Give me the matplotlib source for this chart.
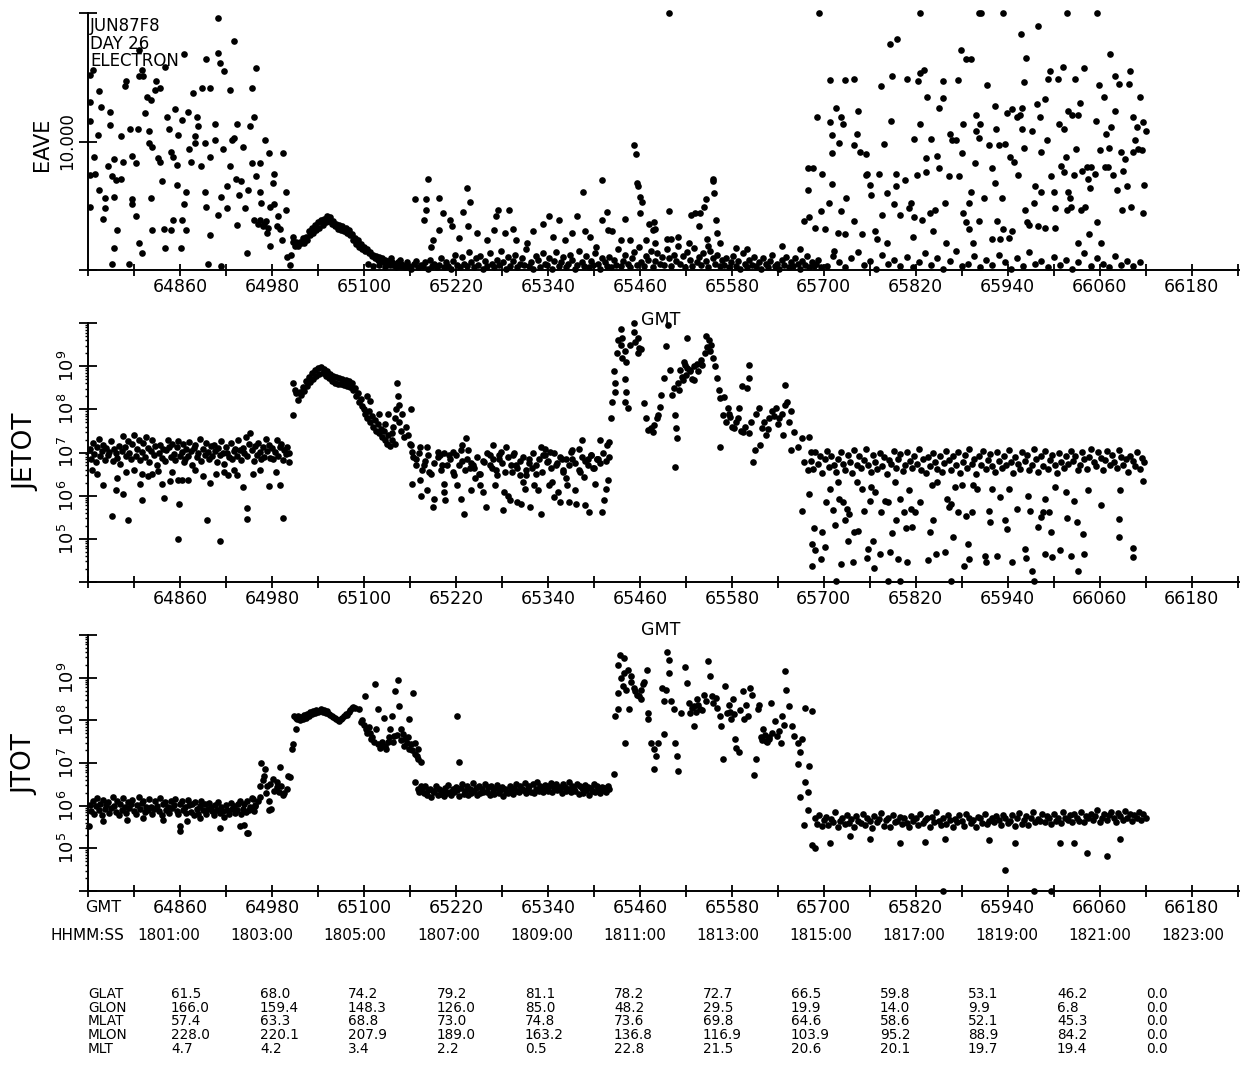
import numpy as np
import matplotlib
matplotlib.use("Agg")
import matplotlib.pyplot as plt
from matplotlib.ticker import LogLocator, NullFormatter

plt.rcParams["font.family"] = ["DejaVu Sans"]

# ---- x axis (GMT seconds of day) ----
gmt_labels = [64860, 64980, 65100, 65220, 65340, 65460, 65580, 65700,
              65820, 65940, 66060, 66180]
hhmm_labels = ["1801:00", "1803:00", "1805:00", "1807:00", "1809:00", "1811:00",
               "1813:00", "1815:00", "1817:00", "1819:00", "1821:00", "1823:00"]

# ---- EAVE (linear, values above 20 drawn at the top) ----
eave_pts = [
    (64742, 15.2), (64742, 13.1), (64743, 11.6), (64742, 7.4), (64742, 4.9),
    (64747, 15.6), (64754, 13.9), (64757, 12.7), (64753, 10.5), (64748, 8.8), (64749, 7.5),
    (64754, 6.2), (64762, 5.6), (64762, 4.8), (64759, 4.0),
    (64769, 12.3), (64769, 11.3), (64766, 8.1), (64771, 7.3), (64774, 8.6), (64776, 7.0),
    (64774, 5.7), (64778, 3.1), (64774, 1.7), (64771, 0.5), (64783, 10.4), (64786, 8.4), (64783, 7.1),
    (64788, 14.3), (64790, 14.7), (64795, 11.0), (64798, 8.9), (64798, 5.5), (64797, 5.1),
    (64807, 15.1), (64807, 17.1), (64810, 15.6), (64807, 2.1), (64810, 1.3), (64805, 11.0),
    (64802, 8.3), (64802, 4.2), (64793, 0.5),
    (64812, 15.1), (64815, 12.2), (64817, 13.5), (64819, 10.8), (64819, 9.9), (64822, 13.2),
    (64824, 9.6), (64827, 14.0), (64829, 14.7), (64834, 14.2), (64831, 8.7), (64834, 8.4),
    (64836, 6.9), (64824, 3.1), (64822, 5.6), (64839, 3.2),
    (64841, 15.8), (64843, 11.9), (64846, 11.0), (64848, 9.2), (64851, 8.8), (64853, 12.5),
    (64851, 3.9), (64848, 3.1), (64840, 1.7), (64856, 8.2), (64856, 6.6), (64858, 10.5),
    (64863, 11.7), (64861, 1.7), (64865, 16.8), (64863, 3.9), (64865, 5.1), (64868, 6.1), (64868, 3.1),
    (64870, 12.3), (64872, 9.4), (64875, 8.4), (64877, 13.8), (64880, 10.4), (64880, 9.9),
    (64882, 11.9), (64884, 11.2), (64887, 8.1), (64889, 14.2), (64894, 16.4), (64892, 9.9),
    (64892, 6.1), (64894, 4.9), (64899, 8.8), (64899, 2.7), (64896, 0.5), (64899, 14.2),
    (64906, 11.4), (64906, 10.1), (64909, 19.6), (64909, 16.9), (64912, 16.1), (64909, 4.3),
    (64913, 5.7), (64916, 9.4), (64918, 15.5), (64921, 6.5), (64921, 4.8), (64925, 14.0),
    (64925, 8.1), (64928, 10.1), (64914, 0.3),
    (64930, 17.8), (64930, 10.3), (64933, 7.1), (64935, 11.4), (64935, 3.5), (64937, 5.8),
    (64940, 6.9), (64942, 9.6), (64945, 4.8), (64947, 1.3), (64949, 6.2), (64952, 11.2),
    (64954, 14.2), (64957, 11.9), (64954, 8.3), (64959, 15.7), (64959, 7.3), (64957, 3.9),
    (64962, 3.6), (64965, 3.9), (64968, 3.4), (64972, 3.8), (64975, 3.3),
    (64964, 8.3), (64964, 6.1), (64966, 5.2), (64969, 3.6), (64971, 10.1), (64974, 2.9),
    (64976, 9.1), (64978, 4.9), (64978, 1.9), (64981, 6.8), (64983, 7.5), (64986, 3.4), (64983, 5.1),
    (64988, 4.2), (64990, 3.2), (64993, 2.3), (64995, 9.1), (64998, 6.1), (64998, 4.7),
    (65000, 1.0), (65003, 0.4), (65005, 1.2), (65007, 2.6),
    (65105, 0.5), (65112, 0.3), (65120, 0.4), (65128, 0.2), (65135, 0.9), (65142, 0.2), (65147, 0.8),
    (65166, 5.5), (65181, 5.5), (65181, 4.7), (65178, 3.9), (65184, 7.1), (65198, 5.6),
    (65203, 4.4), (65190, 2.3), (65188, 1.8), (65198, 3.1), (65212, 3.9), (65215, 3.4),
    (65224, 2.5), (65229, 4.5), (65234, 6.4), (65239, 5.3), (65236, 3.4), (65248, 2.9),
    (65260, 2.3), (65270, 3.1), (65272, 4.2), (65275, 4.7), (65289, 4.7), (65284, 2.9),
    (65294, 3.2), (65299, 2.3), (65313, 2.1), (65321, 3.0), (65333, 3.6), (65342, 4.2),
    (65354, 3.9), (65347, 2.6), (65362, 2.3), (65371, 2.9), (65378, 4.2), (65386, 6.1),
    (65388, 3.0), (65395, 2.6), (65403, 1.8), (65410, 7.0), (65410, 3.9), (65417, 4.5),
    (65419, 3.1), (65424, 3.0), (65436, 2.3), (65440, 4.0), (65447, 2.3), (65453, 9.7),
    (65455, 9.0), (65456, 6.8), (65457, 6.5), (65460, 5.7), (65463, 5.3), (65460, 4.4),
    (65468, 2.3), (65472, 3.6), (65477, 3.1), (65480, 2.1),
    (65478, 3.7), (65480, 3.2), (65495, 2.4), (65500, 2.4), (65510, 2.6), (65524, 2.1),
    (65527, 4.3), (65532, 4.4), (65539, 4.4), (65544, 4.9), (65546, 5.5), (65537, 3.4),
    (65547, 2.4), (65549, 1.9), (65555, 7.1), (65556, 6.9), (65557, 6.0), (65559, 3.9),
    (65561, 2.9), (65564, 2.1), (65498, 4.6),
    (65586, 1.7), (65600, 1.6), (65645, 1.9), (65669, 1.6), (65713, 1.5),
    (65679, 7.9), (65686, 7.9), (65679, 6.2), (65691, 11.9), (65698, 7.5), (65696, 4.6),
    (65674, 3.8), (65681, 4.1), (65689, 3.3), (65701, 3.2), (65707, 5.2), (65708, 14.8),
    (65708, 11.5), (65711, 10.5), (65711, 9.1), (65711, 6.7), (65716, 12.6), (65720, 9.9),
    (65723, 11.9), (65725, 11.4), (65723, 4.6), (65718, 2.9), (65728, 14.8), (65729, 5.6),
    (65728, 2.8), (65740, 14.9), (65740, 3.8), (65740, 9.7), (65743, 10.6), (65745, 12.4),
    (65747, 9.2), (65750, 2.8), (65755, 9.0), (65755, 7.4), (65757, 7.5), (65760, 6.6),
    (65762, 5.8), (65767, 3.0), (65769, 2.4), (65772, 7.5), (65774, 14.3), (65776, 4.3),
    (65778, 9.8), (65782, 6.0), (65783, 2.1), (65786, 17.6), (65788, 11.6), (65789, 15.1),
    (65792, 5.1), (65794, 7.5), (65794, 6.5), (65795, 18.0), (65799, 4.3), (65806, 7.0),
    (65809, 14.9), (65811, 4.8), (65814, 5.2), (65816, 2.6), (65818, 4.1), (65818, 10.2),
    (65821, 7.4), (65823, 14.7), (65826, 15.3), (65826, 11.4), (65828, 3.9), (65831, 15.6),
    (65833, 8.7), (65833, 7.6), (65835, 13.5), (65838, 4.4), (65840, 10.2), (65843, 3.0),
    (65845, 4.7), (65848, 8.9), (65850, 12.6), (65850, 7.9), (65855, 14.7), (65856, 13.4),
    (65858, 5.2), (65860, 2.1), (65863, 7.3), (65865, 10.6), (65867, 10.1), (65872, 10.1),
    (65875, 14.8), (65876, 7.3), (65879, 17.1), (65880, 9.1), (65882, 11.4), (65882, 4.4),
    (65885, 16.4), (65885, 3.7), (65889, 5.2), (65892, 16.4), (65890, 3.2), (65892, 6.1),
    (65895, 2.1), (65897, 8.3), (65898, 12.1), (65899, 10.8), (65902, 10.3), (65903, 3.8),
    (65904, 11.4), (65909, 5.6), (65913, 14.4), (65915, 9.7), (65919, 7.9), (65920, 2.4),
    (65923, 12.8), (65924, 6.8), (65925, 11.0), (65926, 3.8), (65929, 9.7), (65930, 2.4),
    (65933, 5.6), (65934, 3.2), (65936, 9.8), (65939, 12.2), (65941, 2.5), (65943, 8.8),
    (65946, 12.5), (65946, 3.0), (65948, 8.4), (65952, 11.9), (65954, 7.4), (65956, 12.1),
    (65957, 18.4), (65958, 12.6), (65959, 11.0), (65961, 14.6), (65961, 9.5), (65962, 4.7),
    (65964, 16.5), (65965, 3.7), (65968, 3.5), (65972, 10.8), (65974, 5.2), (65975, 6.5),
    (65978, 12.9), (65979, 19.0), (65980, 3.4), (65982, 11.9), (65983, 9.2), (65983, 6.1),
    (65988, 13.3), (65988, 3.3), (65991, 10.1), (65992, 14.9), (65995, 15.5), (65997, 7.3),
    (66000, 6.1), (66001, 4.8), (66002, 3.3), (66006, 14.9), (66007, 11.4), (66010, 8.1),
    (66012, 15.8), (66013, 11.0), (66014, 7.6), (66016, 8.8), (66017, 4.7), (66019, 12.4),
    (66019, 6.1), (66021, 5.6), (66023, 4.9), (66024, 12.1), (66026, 7.4), (66028, 14.9),
    (66029, 9.4), (66031, 2.1), (66032, 12.1), (66034, 13.0), (66036, 4.7), (66037, 7.7),
    (66039, 15.7), (66041, 4.9), (66044, 8.0), (66045, 7.1), (66046, 2.8), (66047, 6.4),
    (66049, 8.0), (66054, 7.5), (66055, 11.6), (66057, 3.7), (66059, 14.4), (66060, 9.3),
    (66062, 2.1), (66066, 13.5), (66067, 8.0), (66068, 10.6), (66071, 8.0), (66072, 9.5),
    (66073, 16.8), (66075, 11.1), (66077, 7.4), (66080, 15.1), (66080, 12.4), (66082, 6.2),
    (66085, 14.5), (66088, 9.2), (66089, 4.7), (66091, 7.7), (66093, 8.6), (66095, 6.5),
    (66098, 14.5), (66099, 15.5), (66101, 4.9), (66103, 11.9), (66104, 9.2), (66106, 10.1),
    (66108, 11.1), (66110, 9.4), (66112, 13.5), (66115, 9.3), (66116, 4.4), (66117, 11.5),
    (66118, 6.6), (66120, 10.8),
    (65498, 20.0), (65694, 20.0), (65826, 20.0), (65902, 20.0), (65905, 20.0),
    (65934, 20.0), (66017, 20.0), (66057, 20.0),
]
# dense stretches, one sample per step seconds from the start time
eave_arc_start, eave_arc_step = 65008, 2
eave_arc = [2.2, 1.9, 2.2, 1.9, 2.2, 2.1, 2.5, 2.1, 2.6, 2.3, 3.0, 2.7, 3.3, 2.9, 3.5, 3.1, 3.7, 3.3,
            3.9, 3.5, 4.0, 3.7, 4.2, 3.8, 4.1, 3.6, 3.8, 3.4, 3.6, 3.2, 3.5, 3.1, 3.4, 3.0, 3.3, 2.9,
            3.1, 2.7, 2.8, 2.3, 2.5, 2.0, 2.3, 1.8, 2.0, 1.6, 1.8, 1.5, 1.6, 1.3, 1.4, 1.1, 1.2, 0.9,
            1.1, 0.8, 1.0, 0.7, 0.9, 0.6, 0.8, 0.5, 0.7, 0.4, 0.6, 0.4, 0.5, 0.3, 0.6, 0.3, 0.5, 0.3]
eave_low_start, eave_low_step = 65150, 3
eave_low = [0.4, 0.2, 0.6, 0.3, 0.1, 0.5, 0.7, 0.2, 0.4, 0.3, 0.6, 0.1, 0.8, 0.3, 0.5, 0.2, 0.4, 0.9, 0.2, 0.6,
            0.3, 0.1, 0.7, 1.2, 0.4, 0.2, 1.0, 0.5, 0.3, 1.4, 0.6, 0.2, 0.9, 0.4, 1.1, 0.1, 0.7, 0.3, 1.3, 0.5,
            0.2, 0.8, 0.4, 1.5, 0.6, 0.1, 1.0, 0.3, 0.7, 1.2, 0.2, 0.5, 0.9, 0.4, 1.6, 0.3, 0.6, 0.1, 1.1, 0.8,
            0.2, 1.3, 0.5, 0.4, 0.9, 0.1, 0.7, 1.4, 0.3, 0.6, 1.0, 0.2, 0.5, 1.2, 0.8, 0.1, 0.4, 1.5, 0.6, 0.3,
            1.1, 0.2, 0.7, 0.4, 1.3, 0.5, 0.1, 0.9, 0.6, 0.3, 1.0, 0.2, 0.8, 0.4, 1.6, 0.3, 0.7, 1.2, 0.5, 0.2,
            0.9, 1.4, 0.4, 1.8, 0.6, 0.3, 1.1, 0.8, 1.5, 0.2, 0.7, 1.3, 0.5, 1.0, 0.4, 1.6, 0.9, 0.3, 1.2, 0.7,
            1.9, 0.5, 1.1, 0.2, 1.4, 0.8, 0.3, 1.7, 0.6, 1.0, 0.4, 1.3, 0.7, 0.2, 1.5, 0.9, 0.5, 1.2, 0.3, 0.8,
            0.4, 0.9, 0.2, 0.6, 1.1, 0.3, 0.7, 0.1, 1.3, 0.5, 0.2, 0.8, 0.4, 1.0, 0.3, 0.6, 0.1, 0.9, 0.5, 0.2,
            0.7, 1.2, 0.3, 0.5, 0.1, 0.8, 0.4, 1.0, 0.2, 0.6, 0.3, 0.9, 0.5, 0.1, 0.7, 0.4, 1.1, 0.2, 0.6, 0.3,
            0.5, 0.8, 0.2]
eave_tail_start, eave_tail_step = 65704, 8
eave_tail = [0.3, 1.1, 0.6, 0.2, 0.9, 1.4, 0.4, 0.7, 0.1, 1.2, 0.5, 0.8, 0.3, 1.0, 0.2, 0.6, 1.3, 0.4,
             0.9, 0.1, 0.7, 1.5, 0.3, 0.5, 1.1, 0.2, 0.8, 0.4, 1.2, 0.6, 0.1, 0.9, 0.3, 1.4, 0.5, 0.7,
             0.2, 1.0, 0.4, 0.8, 0.1, 0.6, 1.3, 0.3, 0.9, 0.5, 0.2, 1.1, 0.4, 0.7, 0.3, 0.6]

# ---- JETOT (log10 of flux) ----
jetot_pts = [
    (64759, 6.24), (64771, 5.54), (64776, 6.12), (64778, 6.41), (64786, 6.05), (64792, 5.44),
    (64808, 6.26), (64810, 6.51), (64811, 5.9), (64823, 6.51), (64831, 6.57), (64837, 6.26),
    (64839, 5.94), (64847, 6.34), (64858, 4.99), (64859, 5.81), (64857, 6.37), (64862, 6.36),
    (64870, 6.36), (64865, 6.78), (64895, 5.43), (64899, 6.3), (64907, 6.51), (64912, 4.96),
    (64923, 6.47), (64935, 6.47), (64942, 6.2), (64947, 5.72), (64948, 5.47), (64976, 6.22),
    (64990, 6.24), (64995, 5.49), (65002, 6.78),
    (64745, 6.6), (64752, 6.5), (64790, 6.55), (64800, 6.6), (64818, 6.45), (64850, 6.55),
    (64880, 6.6), (64890, 6.45), (64918, 6.55), (64930, 6.6), (64955, 6.5), (64965, 6.6), (64985, 6.55),
    (65007, 7.87),
    (65100, 8.0), (65102, 7.9), (65104, 7.8), (65106, 7.95), (65108, 7.7), (65110, 7.85),
    (65112, 7.6), (65114, 7.75), (65116, 7.5), (65118, 7.65), (65120, 7.45), (65122, 7.55),
    (65124, 7.35), (65126, 7.5), (65128, 7.3), (65130, 7.2), (65132, 7.4), (65134, 7.15),
    (65136, 7.45), (65138, 7.6), (65140, 7.8), (65142, 8.0), (65143, 8.6), (65145, 8.3),
    (65146, 7.7), (65148, 7.5), (65150, 7.9), (65152, 7.35), (65155, 7.6), (65158, 7.4),
    (65160, 7.2), (65161, 8.0), (65108, 8.2), (65104, 8.3), (65120, 7.9), (65128, 7.65),
    (65132, 7.9), (65136, 7.3), (65140, 7.2), (65146, 8.1),
    (65161, 7.17), (65163, 7.02), (65168, 6.86), (65173, 7.13), (65163, 6.28), (65173, 6.36),
    (65178, 6.71), (65182, 7.13), (65185, 6.55), (65175, 6.0), (65182, 6.12), (65190, 5.74),
    (65192, 5.93), (65197, 7.02), (65199, 6.94), (65202, 6.71), (65204, 6.28), (65205, 6.09),
    (65206, 5.89), (65211, 6.94), (65216, 7.02), (65218, 6.47), (65221, 6.24), (65226, 7.05),
    (65226, 5.93), (65228, 7.17), (65230, 5.58), (65233, 7.33), (65235, 6.86), (65238, 6.63),
    (65240, 6.12), (65242, 6.71), (65245, 6.4), (65250, 6.51), (65252, 6.24), (65255, 6.09),
    (65257, 6.78), (65259, 5.74), (65264, 6.94), (65267, 6.63), (65269, 7.17), (65271, 6.24),
    (65274, 6.47), (65276, 6.86), (65279, 7.02), (65281, 5.66), (65283, 6.09), (65286, 7.13),
    (65288, 6.0), (65291, 5.89), (65293, 6.55), (65295, 6.94), (65298, 6.71), (65300, 5.85),
    (65303, 6.47), (65305, 5.81), (65307, 6.32), (65310, 6.16), (65312, 6.47), (65315, 6.86),
    (65317, 5.74), (65319, 6.63), (65322, 6.24), (65324, 6.51), (65327, 6.12), (65331, 5.58),
    (65331, 7.13), (65334, 6.94), (65336, 7.09), (65339, 6.78), (65341, 6.24), (65343, 7.02),
    (65346, 6.32), (65348, 5.97), (65351, 6.71), (65353, 6.09), (65356, 5.85), (65358, 6.86),
    (65360, 6.55), (65363, 6.4), (65365, 6.24), (65368, 5.85), (65370, 7.02), (65372, 6.86),
    (65375, 6.12), (65377, 5.81), (65380, 7.09), (65382, 6.55), (65384, 7.29), (65387, 6.43),
    (65389, 5.78), (65392, 6.86), (65394, 5.62), (65396, 6.94), (65399, 6.63), (65401, 6.28),
    (65404, 6.86), (65406, 6.86), (65408, 7.29), (65411, 5.62), (65413, 5.89), (65416, 6.16),
    (65418, 6.36), (65417, 7.17), (65420, 7.25),
    (65423, 7.79), (65424, 8.18), (65426, 8.88), (65428, 8.6), (65427, 8.4), (65430, 9.3),
    (65432, 9.6), (65435, 9.85), (65436, 9.5), (65437, 9.65), (65437, 9.2), (65440, 9.34),
    (65440, 8.7), (65442, 9.1), (65442, 8.41), (65440, 8.18), (65444, 8.02), (65447, 9.5),
    (65452, 10.0), (65452, 9.8), (65454, 9.57), (65457, 9.65), (65457, 9.3), (65459, 9.42),
    (65461, 9.4), (65466, 8.14), (65468, 7.79), (65471, 7.52),
    (65474, 7.56), (65477, 7.48), (65479, 7.64), (65482, 7.79), (65484, 7.87), (65486, 8.06),
    (65494, 9.46), (65497, 9.96), (65521, 9.65), (65546, 9.7), (65551, 9.34), (65553, 9.5),
    (65492, 8.72), (65499, 8.91), (65502, 8.33), (65487, 8.33), (65506, 7.87), (65507, 7.56),
    (65509, 7.33), (65506, 6.67), (65511, 8.45), (65516, 8.68), (65519, 9.03), (65526, 8.88),
    (65531, 8.68), (65536, 8.88), (65541, 9.03), (65561, 8.72), (65563, 8.45), (65565, 8.26),
    (65568, 7.87), (65565, 7.13), (65570, 8.29), (65575, 8.02), (65578, 7.83), (65583, 7.56),
    (65585, 7.71), (65590, 8.02), (65593, 8.53), (65600, 8.49), (65602, 9.03), (65602, 8.72),
    (65595, 7.48), (65605, 7.71), (65607, 6.78), (65610, 7.05), (65615, 8.02), (65617, 7.17),
    (65620, 7.56), (65625, 7.4), (65629, 7.79), (65632, 7.95), (65637, 8.02), (65642, 7.79),
    (65647, 7.4), (65649, 8.57), (65652, 8.18), (65657, 7.95), (65661, 7.48), (65657, 7.05),
    (65666, 7.13), (65671, 7.33), (65681, 7.36), (65674, 6.78), (65679, 6.59), (65683, 7.02),
    (65505, 8.5), (65510, 8.6), (65515, 8.75), (65520, 8.8), (65525, 8.9), (65530, 9.0),
    (65535, 9.05), (65540, 9.15), (65545, 9.3), (65548, 9.45), (65550, 9.6), (65555, 9.2),
    (65558, 9.0), (65512, 8.9), (65518, 9.1), (65522, 8.95), (65528, 8.7),
    (65572, 7.7), (65576, 7.9), (65580, 7.6), (65588, 7.8), (65592, 7.5), (65597, 7.6),
    (65603, 7.45), (65612, 7.9), (65622, 7.7), (65627, 7.55), (65635, 7.85), (65640, 7.65),
    (65645, 7.9), (65650, 8.1), (65655, 7.7),
    (65671, 5.64), (65681, 6.05), (65684, 4.88), (65687, 5.25), (65688, 4.73), (65685, 4.36),
    (65696, 4.53), (65698, 5.16), (65702, 4.81), (65703, 5.85), (65708, 6.16), (65712, 5.66),
    (65714, 5.33), (65718, 6.32), (65720, 5.93), (65723, 4.42), (65725, 5.85), (65728, 5.43),
    (65730, 5.7), (65732, 4.94), (65733, 5.58), (65738, 4.46), (65740, 5.16), (65743, 6.32),
    (65744, 5.19), (65750, 6.16), (65753, 5.64), (65756, 4.55), (65758, 4.77), (65760, 5.87),
    (65762, 6.2), (65764, 4.94), (65765, 4.32), (65767, 6.09), (65773, 4.65), (65775, 5.62),
    (65780, 5.87), (65784, 5.85), (65787, 4.69), (65789, 5.14), (65793, 6.32), (65794, 5.43),
    (65797, 4.53), (65799, 5.93), (65804, 5.62), (65807, 5.24), (65809, 4.47), (65811, 6.14),
    (65814, 5.7), (65815, 5.27), (65819, 5.62), (65826, 5.85), (65836, 4.5), (65839, 5.16),
    (65841, 6.24), (65842, 5.43), (65846, 4.65), (65848, 6.32), (65858, 4.69), (65861, 5.93),
    (65863, 5.74), (65866, 5.81), (65868, 5.04), (65871, 6.2), (65875, 5.62), (65880, 6.24),
    (65883, 4.38), (65885, 5.54), (65888, 4.88), (65889, 4.53), (65893, 5.62), (65895, 6.24),
    (65900, 6.16), (65910, 4.6), (65912, 4.46), (65915, 5.64), (65917, 5.4), (65920, 6.16),
    (65926, 4.6), (65930, 5.97), (65937, 5.43), (65939, 5.22), (65942, 6.16), (65945, 4.47),
    (65952, 5.7), (65962, 4.77), (65964, 4.55), (65966, 6.0), (65969, 5.64), (65972, 4.26),
    (65979, 5.27), (65984, 5.5), (65986, 5.62), (65989, 5.93), (65989, 4.65), (65994, 5.62),
    (65996, 5.16), (65998, 4.57), (66001, 6.2), (66008, 4.73), (66016, 6.09), (66017, 5.48),
    (66022, 4.61), (66027, 5.87), (66030, 5.4), (66032, 4.26), (66038, 5.11), (66039, 4.65),
    (66045, 6.12), (66062, 5.79), (66085, 5.47), (66085, 5.04), (66087, 6.12), (66104, 4.79),
    (66104, 4.57), (66117, 6.33),
    (65716, 4.03), (65784, 4.03), (65799, 4.03), (65866, 4.03), (65974, 4.03),
]
jetot_a_start, jetot_a_step = 64742, 2
jetot_a = [7.08, 6.86, 7.21, 6.97, 6.79, 7.13, 7.31, 6.92, 7.04, 7.18, 6.83, 7.11, 6.95, 7.02, 7.27, 6.81, 7.09, 6.99, 6.88, 7.16,
           6.74, 7.03, 7.38, 7.12, 6.91, 7.26, 6.98, 6.84, 7.19, 7.41, 6.93, 7.07, 7.29, 6.82, 7.01, 7.22, 6.89, 7.36, 7.1, 6.78,
           7.04, 7.28, 6.94, 7.14, 6.72, 7.0, 7.17, 6.87, 7.09, 6.8, 7.06, 7.3, 7.12, 6.9, 7.2, 6.97, 6.83, 7.13, 7.27, 6.92,
           7.01, 7.19, 6.85, 7.08, 6.93, 7.24, 7.03, 6.71, 7.11, 7.17, 6.89, 7.0, 7.32, 6.81, 7.07, 6.95, 7.21, 7.02, 6.86, 7.14,
           6.91, 7.18, 7.04, 6.79, 7.1, 6.94, 7.26, 7.0, 6.73, 7.12, 6.98, 6.9, 7.23, 6.84, 7.03, 7.09, 6.92, 7.29, 7.05, 6.82,
           7.11, 6.99, 7.37, 6.93, 7.2, 7.46, 7.06, 6.8, 7.15, 6.95, 7.22, 7.01, 6.85, 7.12, 6.9, 7.31, 7.03, 7.18, 6.88, 7.1,
           6.84, 7.02, 7.28, 6.91, 7.13, 7.19, 6.82, 7.05, 6.96, 7.12, 7.0]
jetot_arc_start, jetot_arc_step = 65008, 2
jetot_arc = [8.6, 8.45, 8.38, 8.22, 8.4, 8.33, 8.52, 8.42, 8.66, 8.54, 8.75, 8.64, 8.84, 8.7, 8.9, 8.78,
             8.96, 8.82, 8.98, 8.84, 8.93, 8.78, 8.88, 8.72, 8.82, 8.66, 8.78, 8.62, 8.74, 8.58, 8.72, 8.58,
             8.7, 8.57, 8.68, 8.55, 8.66, 8.52, 8.62, 8.45, 8.5, 8.3, 8.38, 8.18, 8.25, 8.08]
jetot_b_start, jetot_b_step = 65164, 4
jetot_b = [6.9, 6.7, 7.0, 6.6, 6.8, 6.95, 6.5, 6.75, 6.9, 6.6, 7.0, 6.7, 6.85, 6.55, 6.95, 6.7, 6.8, 6.6, 7.05, 6.75,
           6.65, 6.9, 6.5, 6.8, 7.0, 6.7, 6.85, 6.6, 6.95, 6.75, 6.55, 6.9, 6.7, 7.0, 6.65, 6.8, 6.9, 6.6, 6.75, 7.0,
           6.7, 6.85, 6.55, 6.95, 6.8, 6.65, 7.0, 6.75, 6.9, 6.6, 6.85, 6.7, 7.05, 6.75, 6.6, 6.9, 6.8, 6.7, 6.95, 6.65,
           6.85, 6.75, 7.0, 6.8, 6.9]
jetot_c_start, jetot_c_step = 65683, 3
jetot_c = [6.81, 6.62, 7.01, 6.73, 6.92, 6.53, 6.84, 7.04, 6.66, 6.93, 6.71, 6.55, 6.86, 7.02, 6.74, 6.6, 6.95, 6.79, 6.52, 7.05,
           6.7, 6.91, 6.63, 6.83, 7.08, 6.72, 6.54, 6.94, 6.77, 6.61, 6.99, 6.69, 6.89, 6.51, 6.82, 6.74, 7.03, 6.64, 6.85, 6.96,
           6.56, 6.71, 7.02, 6.8, 6.63, 6.92, 6.73, 7.09, 6.59, 6.84, 6.52, 6.9, 6.68, 7.0, 6.78, 6.62, 6.93, 6.55, 6.75, 7.04,
           6.83, 6.6, 6.91, 6.72, 7.01, 6.53, 6.79, 6.94, 6.65, 7.07, 6.74, 6.86, 6.5, 6.92, 6.7, 7.03, 6.61, 6.82, 6.97, 6.69,
           6.54, 7.02, 6.8, 6.63, 6.93, 6.71, 7.05, 6.78, 6.52, 6.9, 6.73, 6.62, 7.01, 6.81, 6.95, 6.6, 6.72, 7.09, 6.84, 6.55,
           6.92, 6.68, 7.03, 6.61, 6.83, 6.94, 6.7, 6.53, 7.0, 6.79, 6.64, 6.91, 6.74, 7.04, 6.8, 6.93, 6.59, 6.71, 7.02, 6.85,
           6.62, 6.9, 7.08, 6.77, 6.69, 7.01, 6.88, 6.6, 6.82, 7.03, 6.72, 6.95, 6.79, 6.63, 7.05, 6.9, 6.7, 6.84, 6.54, 6.92,
           6.8, 6.68, 7.02, 6.61, 6.88, 6.77]

# ---- JTOT (log10 of flux) ----
jtot_pts = [
    (64741, 5.53), (64760, 5.63), (64860, 5.53), (64860, 5.4), (64869, 5.65), (64912, 5.47),
    (64938, 5.53), (64947, 5.35), (64791, 5.67), (64812, 5.7), (64838, 5.67), (64886, 5.7),
    (64944, 5.54), (64949, 5.35), (64964, 6.47), (64966, 7.0), (64969, 6.7), (64971, 6.86),
    (64974, 6.47), (64976, 6.12), (64979, 5.93), (64976, 5.89), (64981, 6.63), (64986, 6.43),
    (64989, 6.32), (64994, 6.24), (64999, 6.4), (64991, 6.9), (65001, 6.7), (65004, 6.67),
    (65006, 7.33), (65008, 7.44), (65011, 7.79), (65009, 8.1), (65013, 8.02),
    (64968, 6.6), (64972, 6.3), (64978, 6.5), (64983, 6.35), (64987, 6.55), (64992, 6.45),
    (64996, 6.3), (64962, 6.1), (64965, 6.2), (64958, 6.0), (64955, 6.15),
    (65094, 8.26), (65096, 7.95), (65101, 8.57), (65104, 7.71), (65109, 7.56), (65114, 8.84),
    (65116, 7.79), (65119, 8.26), (65124, 7.4), (65126, 8.06), (65129, 7.33), (65134, 7.79),
    (65136, 8.1), (65139, 7.64), (65141, 8.68), (65144, 8.95), (65146, 8.33), (65149, 7.79),
    (65151, 7.67), (65154, 7.56), (65156, 7.48), (65159, 8.02), (65159, 7.33), (65164, 8.64),
    (65166, 7.48), (65169, 7.17), (65171, 7.33), (65174, 7.02),
    (65098, 8.0), (65100, 7.9), (65103, 7.8), (65106, 7.85), (65108, 7.7), (65111, 7.6),
    (65113, 7.5), (65118, 7.45), (65121, 7.35), (65123, 7.5), (65128, 7.4), (65131, 7.5),
    (65133, 7.6), (65138, 7.5), (65143, 7.65), (65148, 7.55), (65152, 7.4), (65158, 7.6),
    (65161, 7.45), (65163, 7.3), (65167, 7.2), (65170, 7.1),
    (65166, 6.55), (65170, 6.4), (65172, 6.32), (65175, 6.45),
    (65222, 8.09), (65224, 7.02),
    (65426, 6.74), (65428, 8.1), (65431, 8.64), (65431, 8.26), (65434, 9.53), (65439, 9.46),
    (65439, 9.1), (65444, 9.19), (65449, 9.03), (65441, 7.48), (65446, 8.26), (65454, 8.68),
    (65459, 8.57), (65464, 8.84), (65461, 8.49), (65469, 9.19), (65471, 8.18), (65471, 8.02),
    (65474, 7.48), (65479, 7.33), (65479, 6.86), (65484, 7.48), (65481, 7.17), (65489, 8.76),
    (65491, 8.45), (65494, 8.72), (65491, 7.67), (65496, 9.61), (65498, 9.42), (65498, 9.1),
    (65501, 8.45), (65504, 8.26), (65506, 7.48), (65509, 7.17), (65510, 6.82), (65514, 8.18),
    (65519, 9.26), (65521, 8.88), (65524, 8.41), (65526, 8.18), (65531, 8.33), (65531, 7.87),
    (65534, 8.49), (65539, 8.26), (65544, 8.6), (65549, 9.38), (65551, 9.03), (65554, 8.57),
    (65559, 8.53), (65564, 8.1), (65566, 7.87), (65568, 7.09), (65571, 8.8), (65574, 8.18),
    (65579, 8.02), (65581, 8.49), (65584, 7.56), (65586, 7.36), (65589, 7.25), (65594, 8.68),
    (65596, 8.02), (65599, 8.37), (65604, 8.76), (65606, 8.6), (65609, 6.71), (65611, 7.09),
    (65614, 8.26), (65616, 8.37), (65621, 7.79), (65624, 7.52), (65631, 8.41), (65629, 7.56),
    (65636, 7.98), (65639, 7.64), (65644, 7.48), (65646, 8.1), (65649, 9.15), (65651, 8.72),
    (65654, 8.33), (65659, 7.87), (65661, 7.64), (65666, 7.48), (65669, 7.25), (65666, 6.98),
    (65671, 7.56), (65676, 8.29), (65684, 8.22), (65681, 6.94), (65676, 6.55), (65679, 6.32),
    (65669, 6.2), (65674, 5.54), (65679, 5.89), (65684, 5.08),
    (65432, 9.3), (65436, 9.0), (65438, 8.8), (65442, 8.7), (65448, 8.9), (65452, 8.75),
    (65456, 8.6), (65462, 8.7), (65466, 8.9), (65528, 8.3), (65533, 8.2), (65536, 8.35),
    (65541, 8.25), (65546, 8.45), (65556, 8.4), (65561, 8.3), (65576, 8.35), (65578, 8.2),
    (65583, 8.15), (65591, 8.25), (65601, 8.1), (65618, 7.6), (65620, 7.55), (65623, 7.65),
    (65626, 7.5), (65628, 7.6), (65633, 7.7), (65641, 7.75), (65648, 7.9),
    (65688, 5.0), (65708, 5.12), (65734, 5.28), (65760, 5.23), (65799, 5.12), (65832, 5.16),
    (65936, 4.49), (65916, 5.19), (66008, 5.12), (66044, 4.88), (66070, 4.81), (66086, 5.23),
    (65949, 5.12), (65858, 5.23), (66027, 5.12),
    (65855, 4.0), (65974, 4.0), (65996, 4.0),
]
jtot_a_start, jtot_a_step = 64742, 2
jtot_a = [6.02, 5.88, 6.11, 5.81, 5.99, 6.19, 5.91, 6.04, 5.79, 6.13, 5.93, 6.01, 6.09, 5.83, 5.95, 6.21, 6.0, 5.86, 6.12, 5.78,
          6.03, 5.9, 6.17, 5.97, 5.82, 6.08, 5.94, 6.05, 6.14, 5.87, 5.8, 6.01, 6.2, 5.92, 6.06, 6.1, 5.84, 5.98, 5.89, 6.15,
          5.96, 5.81, 5.93, 6.12, 6.0, 5.88, 6.18, 5.79, 6.04, 6.09, 5.91, 5.98, 5.83, 6.11, 5.94, 6.02, 6.16, 5.87, 5.8, 6.05,
          6.1, 5.9, 5.97, 5.82, 6.13, 6.01, 5.86, 6.03, 5.78, 6.08, 5.92, 5.81, 5.99, 6.11, 5.89, 6.04, 5.8, 5.93, 6.07, 5.98,
          5.88, 5.79, 6.02, 5.91, 6.09, 5.82, 5.97, 5.87, 5.74, 6.01, 5.9, 5.8, 6.06, 5.93, 5.99, 5.83, 5.89, 6.03, 6.1, 5.81,
          5.92, 6.04, 5.84, 6.12, 5.9, 5.98, 6.19, 5.87, 6.01]
jtot_plat_start, jtot_plat_step = 65012, 2
jtot_plat = [8.05, 8.1, 8.0, 8.08, 8.02, 8.12, 8.05, 8.15, 8.1, 8.2, 8.14, 8.22, 8.18, 8.25, 8.2, 8.22,
             8.26, 8.2, 8.24, 8.18, 8.22, 8.15, 8.12, 8.1, 8.08, 8.05, 8.02, 8.0, 7.98, 8.02, 8.05, 8.1,
             8.15, 8.12, 8.2, 8.24, 8.28, 8.32, 8.3]
jtot_b_start, jtot_b_step = 65176, 2
jtot_b = [6.41, 6.29, 6.46, 6.24, 6.36, 6.4, 6.21, 6.34, 6.31, 6.47, 6.26, 6.39, 6.28, 6.35, 6.22, 6.42, 6.3, 6.49, 6.33, 6.25,
          6.38, 6.31, 6.44, 6.36, 6.23, 6.41, 6.5, 6.28, 6.34, 6.46, 6.26, 6.39, 6.3, 6.52, 6.35, 6.42, 6.24, 6.45, 6.29, 6.4,
          6.33, 6.51, 6.31, 6.43, 6.25, 6.47, 6.34, 6.28, 6.41, 6.49, 6.3, 6.36, 6.44, 6.22, 6.4, 6.33, 6.29, 6.46, 6.38, 6.27,
          6.42, 6.5, 6.34, 6.31, 6.47, 6.39, 6.36, 6.52, 6.29, 6.41, 6.45, 6.33, 6.51, 6.3, 6.4, 6.56, 6.35, 6.46, 6.38, 6.31,
          6.49, 6.41, 6.34, 6.46, 6.54, 6.31, 6.42, 6.5, 6.36, 6.44, 6.39, 6.29, 6.51, 6.43, 6.35, 6.4, 6.55, 6.32, 6.47, 6.38,
          6.34, 6.5, 6.27, 6.45, 6.41, 6.3, 6.49, 6.36, 6.44, 6.26, 6.42, 6.35, 6.5, 6.31, 6.46, 6.39, 6.3, 6.44, 6.36, 6.41,
          6.31, 6.45, 6.38]
jtot_c_start, jtot_c_step = 65688, 3
jtot_c = [5.71, 5.58, 5.79, 5.52, 5.66, 5.74, 5.55, 5.69, 5.61, 5.84, 5.49, 5.64, 5.72, 5.56, 5.78, 5.6, 5.68, 5.51, 5.76, 5.63,
          5.59, 5.81, 5.54, 5.7, 5.65, 5.48, 5.75, 5.62, 5.69, 5.83, 5.53, 5.66, 5.71, 5.5, 5.79, 5.61, 5.64, 5.74, 5.56, 5.7,
          5.6, 5.49, 5.76, 5.63, 5.71, 5.54, 5.8, 5.59, 5.66, 5.72, 5.5, 5.74, 5.61, 5.86, 5.64, 5.55, 5.7, 5.58, 5.78, 5.67,
          5.51, 5.69, 5.62, 5.77, 5.65, 5.53, 5.81, 5.7, 5.59, 5.66, 5.49, 5.74, 5.71, 5.6, 5.8, 5.56, 5.64, 5.72, 5.61, 5.76,
          5.66, 5.54, 5.79, 5.71, 5.6, 5.64, 5.77, 5.52, 5.7, 5.82, 5.58, 5.66, 5.75, 5.55, 5.72, 5.85, 5.62, 5.69, 5.65, 5.8,
          5.61, 5.76, 5.7, 5.56, 5.81, 5.64, 5.72, 5.59, 5.84, 5.7, 5.66, 5.77, 5.61, 5.8, 5.71, 5.65, 5.86, 5.62, 5.75, 5.7,
          5.8, 5.66, 5.76, 5.89, 5.62, 5.72, 5.81, 5.66, 5.77, 5.86, 5.7, 5.61, 5.82, 5.75, 5.67, 5.87, 5.72, 5.8, 5.63, 5.77,
          5.71, 5.84, 5.67, 5.81, 5.72]

# ---- orbit table ----
table_rows = ["GLAT", "GLON", "MLAT", "MLON", "MLT"]
glat = [61.5, 68.0, 74.2, 79.2, 81.1, 78.2, 72.7, 66.5, 59.8, 53.1, 46.2, 0.0]
glon = [166.0, 159.4, 148.3, 126.0, 85.0, 48.2, 29.5, 19.9, 14.0, 9.9, 6.8, 0.0]
mlat = [57.4, 63.3, 68.8, 73.0, 74.8, 73.6, 69.8, 64.6, 58.6, 52.1, 45.3, 0.0]
mlon = [228.0, 220.1, 207.9, 189.0, 163.2, 136.8, 116.9, 103.9, 95.2, 88.9, 84.2, 0.0]
mlt = [4.7, 4.2, 3.4, 2.2, 0.5, 22.8, 21.5, 20.6, 20.1, 19.7, 19.4, 0.0]


def stretch(start, step, values):
    t = start + step * np.arange(len(values))
    return t, np.asarray(values, dtype=float)


def gather(pts, *stretches):
    t = [np.array([p[0] for p in pts], dtype=float)]
    v = [np.array([p[1] for p in pts], dtype=float)]
    for s in stretches:
        st, sv = stretch(*s)
        t.append(st)
        v.append(sv)
    return np.concatenate(t), np.concatenate(v)


W, H = 1240, 1076
fig = plt.figure(figsize=(W / 100, H / 100), dpi=100)


def panel(top, bottom):
    return fig.add_axes([88 / W, 1 - bottom / H, 1152 / W, (bottom - top) / H])


def style(ax):
    ax.spines["top"].set_visible(False)
    ax.spines["right"].set_visible(False)
    ax.spines["left"].set_linewidth(1.4)
    ax.spines["bottom"].set_linewidth(1.4)
    ax.set_xlim(64740, 66243)
    ticks = np.arange(64740, 66241, 60)
    ax.set_xticks(ticks, [str(t) if t in gmt_labels else "" for t in ticks])
    ax.tick_params(axis="x", direction="inout", length=9, width=1.3, labelsize=12.5, pad=1)
    ax.tick_params(axis="y", which="major", direction="inout", length=13, width=1.3,
                   labelsize=13, pad=1, labelrotation=90)
    for lab in ax.get_yticklabels():
        lab.set_va("center")


def dots(ax, t, v):
    ax.plot(t, v, "o", color="black", ms=4.8, mew=0, clip_on=False)


def log_axis(ax):
    ax.set_yscale("log")
    ax.set_ylim(1e4, 1e10)
    majors = [10.0 ** k for k in range(4, 11)]
    ax.set_yticks(majors, ["" if k in (4, 10) else r"$10^{%d}$" % k for k in range(4, 11)])
    ax.yaxis.set_minor_locator(LogLocator(base=10, subs=np.arange(2, 10)))
    ax.yaxis.set_minor_formatter(NullFormatter())
    ax.tick_params(axis="y", which="minor", direction="out", length=2.5, width=1.0)


# EAVE
ax1 = panel(13, 270)
t, v = gather(eave_pts, (eave_arc_start, eave_arc_step, eave_arc),
              (eave_low_start, eave_low_step, eave_low),
              (eave_tail_start, eave_tail_step, eave_tail))
dots(ax1, t, v)
ax1.set_ylim(0, 20)
ax1.set_yticks([0, 10, 20], ["", "10.000", ""])
style(ax1)
ax1.tick_params(axis="y", labelsize=12, pad=2)

# JETOT
ax2 = panel(323, 582)
t, v = gather(jetot_pts, (jetot_a_start, jetot_a_step, jetot_a),
              (jetot_arc_start, jetot_arc_step, jetot_arc),
              (jetot_b_start, jetot_b_step, jetot_b),
              (jetot_c_start, jetot_c_step, jetot_c))
dots(ax2, t, 10 ** v)
log_axis(ax2)
style(ax2)

# JTOT
ax3 = panel(635, 891)
t, v = gather(jtot_pts, (jtot_a_start, jtot_a_step, jtot_a),
              (jtot_plat_start, jtot_plat_step, jtot_plat),
              (jtot_b_start, jtot_b_step, jtot_b),
              (jtot_c_start, jtot_c_step, jtot_c))
dots(ax3, t, 10 ** v)
log_axis(ax3)
style(ax3)

# axis titles and annotations
fig.text(42 / W, 1 - 144 / H, "EAVE", rotation=90, ha="center", va="center", fontsize=15)
fig.text(26 / W, 1 - 452 / H, "JETOT", rotation=90, ha="center", va="center", fontsize=19)
fig.text(25 / W, 1 - 765 / H, "JTOT", rotation=90, ha="center", va="center", fontsize=19)
fig.text(661 / W, 1 - 320 / H, "GMT", ha="center", va="center", fontsize=12.5)
fig.text(661 / W, 1 - 630 / H, "GMT", ha="center", va="center", fontsize=12.5)
fig.text(90 / W, 1 - 26 / H, "JUN87F8", ha="left", va="center", fontsize=12)
fig.text(90 / W, 1 - 44 / H, "DAY 26", ha="left", va="center", fontsize=12)
fig.text(90 / W, 1 - 61 / H, "ELECTRON", ha="left", va="center", fontsize=12)

# time row under the last panel
fig.text(103 / W, 1 - 907 / H, "GMT", ha="center", va="center", fontsize=11.5)
fig.text(87 / W, 1 - 935 / H, "HHMM:SS", ha="center", va="center", fontsize=11)
for i, lab in enumerate(hhmm_labels):
    fig.text((169 + 93.1 * i) / W, 1 - 935 / H, lab, ha="center", va="center", fontsize=11)

# orbit table
col_x = [171, 260, 348, 437, 525, 614, 703, 791, 880, 968, 1057, 1146]
for i, (name, vals) in enumerate(zip(table_rows, [glat, glon, mlat, mlon, mlt])):
    y = 1 - (994 + 13.7 * i) / H
    fig.text(88 / W, y, name, ha="left", va="center", fontsize=9.8)
    for x, val in zip(col_x, vals):
        fig.text(x / W, y, f"{val:.1f}", ha="left", va="center", fontsize=9.8)

fig.savefig("out.png", dpi=100)
